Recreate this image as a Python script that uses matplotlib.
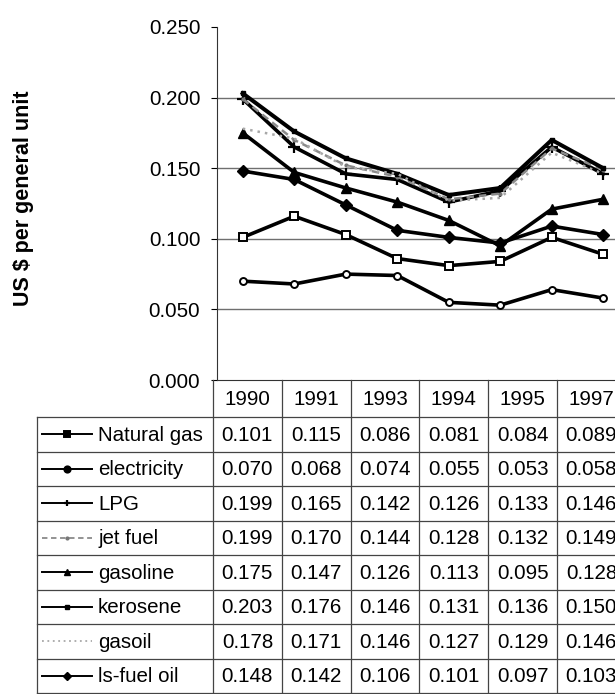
import matplotlib
matplotlib.use("Agg")
import matplotlib.pyplot as plt
from matplotlib.lines import Line2D

plt.rcParams['font.family'] = ['Liberation Sans', 'DejaVu Sans']

# ---------------- data ----------------
chart_years = [1990, 1991, 1992, 1993, 1994, 1995, 1996, 1997]
series_names = ['Natural gas', 'electricity', 'LPG', 'jet fuel',
                'gasoline', 'kerosene', 'gasoil', 'ls-fuel oil']

natural_gas = [0.101, 0.116, 0.103, 0.086, 0.081, 0.084, 0.101, 0.089]
electricity = [0.070, 0.068, 0.075, 0.074, 0.055, 0.053, 0.064, 0.058]
lpg         = [0.199, 0.165, 0.146, 0.142, 0.126, 0.134, 0.165, 0.146]
jet_fuel    = [0.199, 0.170, 0.152, 0.144, 0.128, 0.132, 0.164, 0.149]
gasoline    = [0.175, 0.147, 0.136, 0.126, 0.113, 0.095, 0.121, 0.128]
kerosene    = [0.203, 0.176, 0.157, 0.146, 0.131, 0.136, 0.170, 0.150]
gasoil      = [0.178, 0.171, 0.151, 0.146, 0.127, 0.129, 0.161, 0.146]
ls_fuel_oil = [0.148, 0.142, 0.124, 0.106, 0.101, 0.097, 0.109, 0.103]

table_years = ['1990', '1991', '1993', '1994', '1995', '1997']
table_values = {
    'Natural gas': ['0.101', '0.115', '0.086', '0.081', '0.084', '0.089'],
    'electricity': ['0.070', '0.068', '0.074', '0.055', '0.053', '0.058'],
    'LPG':         ['0.199', '0.165', '0.142', '0.126', '0.133', '0.146'],
    'jet fuel':    ['0.199', '0.170', '0.144', '0.128', '0.132', '0.149'],
    'gasoline':    ['0.175', '0.147', '0.126', '0.113', '0.095', '0.128'],
    'kerosene':    ['0.203', '0.176', '0.146', '0.131', '0.136', '0.150'],
    'gasoil':      ['0.178', '0.171', '0.146', '0.127', '0.129', '0.146'],
    'ls-fuel oil': ['0.148', '0.142', '0.106', '0.101', '0.097', '0.103'],
}
series_values = [natural_gas, electricity, lpg, jet_fuel,
                 gasoline, kerosene, gasoil, ls_fuel_oil]

y_ticks = [0.0, 0.05, 0.10, 0.15, 0.20, 0.25]
y_label = 'US $ per general unit'

# ---------------- styles ----------------
styles = {
    'Natural gas': dict(color='black', lw=2.6, ls='-', marker='s', ms=6, mfc='white', mec='black', mew=1.4),
    'electricity': dict(color='black', lw=2.6, ls='-', marker='o', ms=5, mfc='white', mec='black', mew=1.4),
    'LPG':         dict(color='black', lw=2.6, ls='-', marker='+', ms=8, mec='black', mew=1.6),
    'jet fuel':    dict(color='#8a8a8a', lw=1.8, ls=(0, (3, 2)), marker='.', ms=4, mfc='#777', mec='#777'),
    'gasoline':    dict(color='black', lw=2.6, ls='-', marker='^', ms=7, mfc='black', mec='black'),
    'kerosene':    dict(color='black', lw=2.9, ls='-', marker='s', ms=3.5, mfc='black', mec='black'),
    'gasoil':      dict(color='#a8a8a8', lw=1.8, ls=(0, (1, 2)), marker=None),
    'ls-fuel oil': dict(color='black', lw=2.6, ls='-', marker='D', ms=6, mfc='black', mec='black'),
}

W, H = 615, 694
FS = 14.8
fig = plt.figure(figsize=(W / 100, H / 100), dpi=100)

# chart axes (in pixels: left 217, zero line 380, top 27, category width 51.5)
ax_left, ax_zero, ax_top, cat_w = 217, 380, 27, 51.5
ax = fig.add_axes([ax_left / W, (H - ax_zero) / H,
                   len(chart_years) * cat_w / W, (ax_zero - ax_top) / H])
ax.set_xlim(-0.5, len(chart_years) - 0.5)
ax.set_ylim(y_ticks[0], y_ticks[-1])
xs = list(range(len(chart_years)))
for name, vals in zip(series_names, series_values):
    ax.plot(xs, vals, clip_on=False, zorder=3, **styles[name])

ax.set_yticks(y_ticks)
ax.set_yticklabels([f'{v:.3f}' for v in y_ticks], fontsize=FS)
ax.set_xticks([])
ax.tick_params(axis='y', length=4, width=0.8, pad=8, direction='out')
ax.yaxis.grid(True, color='#6f6f6f', lw=1.0)
ax.set_axisbelow(True)
ax.get_ygridlines()[-1].set_visible(False)
ax.get_ygridlines()[0].set_visible(False)
for s in ['top', 'right']:
    ax.spines[s].set_visible(False)
ax.spines['left'].set_color('#333')
ax.spines['left'].set_linewidth(0.8)
ax.spines['bottom'].set_color('#333')
ax.spines['bottom'].set_linewidth(0.8)

fig.text(24 / W, 1 - 198 / H, y_label, rotation=90, ha='center', va='center',
         fontsize=15.5, fontweight='bold')

# data table drawn in pixel coordinates
tab = fig.add_axes([0, 0, 1, 1])
tab.set_xlim(0, W)
tab.set_ylim(H, 0)
tab.axis('off')
tab.patch.set_alpha(0)

col0, col_w = 213, 68.8
hdr_top, hdr_bot = ax_zero, 417
row_h = 34.5
tbl_left = 37
n_rows = len(series_names)
tbl_bot = hdr_bot + n_rows * row_h
lc = '#444'
lw = 0.9

n_cols = len(table_years)
for k in range(n_cols + 1):
    x = col0 + k * col_w
    tab.plot([x, x], [hdr_top, tbl_bot], color=lc, lw=lw)
tab.plot([tbl_left, tbl_left], [hdr_bot, tbl_bot], color=lc, lw=lw)
for r in range(n_rows + 1):
    y = hdr_bot + r * row_h
    tab.plot([tbl_left, W], [y, y], color=lc, lw=lw)

for k, yr in enumerate(table_years):
    tab.text(col0 + (k + 0.5) * col_w, (hdr_top + hdr_bot) / 2 + 1, yr,
             ha='center', va='center', fontsize=FS)

for r, name in enumerate(series_names):
    yc = hdr_bot + (r + 0.5) * row_h
    st = dict(styles[name])
    st['lw'] = 1.4 if st['color'] == 'black' else 1.3
    if st.get('marker'):
        st['ms'] = min(st.get('ms', 4), 4.5)
        if st.get('mfc') == 'white':
            st['mfc'] = 'black'
        st['markevery'] = [1]
    tab.add_line(Line2D([42, 67, 92], [yc, yc, yc], **st))
    tab.text(98, yc + 1, name, ha='left', va='center', fontsize=FS)
    for k, v in enumerate(table_values[name]):
        tab.text(col0 + (k + 0.5) * col_w, yc + 1, v,
                 ha='center', va='center', fontsize=FS)

fig.savefig('out.png', dpi=100)
